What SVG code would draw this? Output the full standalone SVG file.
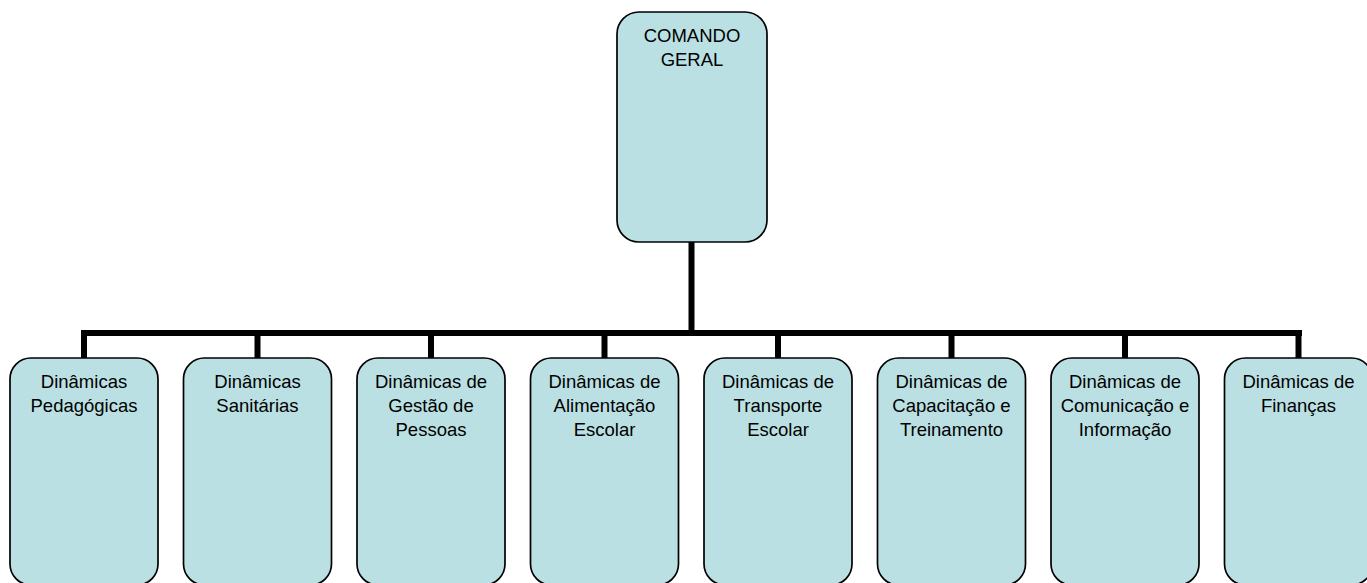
<svg xmlns="http://www.w3.org/2000/svg" width="1367" height="583" viewBox="0 0 1367 583">
<style>
.box{fill:#BAE0E3;stroke:#000;stroke-width:1.7}
.lbl{font-family:"Liberation Sans",Arial,sans-serif;font-size:18.5px;fill:#000;text-anchor:middle}
.con{stroke:#000;stroke-width:6;fill:none;stroke-linecap:butt}
</style>
<rect width="1367" height="583" fill="#fff"/>
<g id="connectors">
<line class="con" x1="691.5" y1="242" x2="691.5" y2="333"/>
<line class="con" x1="81" y1="333" x2="1302" y2="333"/>
<line class="con" x1="84" y1="330" x2="84" y2="358"/>
<line class="con" x1="257.5" y1="330" x2="257.5" y2="358"/>
<line class="con" x1="431" y1="330" x2="431" y2="358"/>
<line class="con" x1="604.5" y1="330" x2="604.5" y2="358"/>
<line class="con" x1="778" y1="330" x2="778" y2="358"/>
<line class="con" x1="951.5" y1="330" x2="951.5" y2="358"/>
<line class="con" x1="1125" y1="330" x2="1125" y2="358"/>
<line class="con" x1="1298.5" y1="330" x2="1298.5" y2="358"/>
</g>
<g id="comando-geral">
<rect class="box" x="617" y="12" width="150" height="230" rx="22"/>
<text class="lbl" x="692" y="42">COMANDO</text>
<text class="lbl" x="692" y="66">GERAL</text>
</g>
<g id="pedagogicas">
<rect class="box" x="10" y="358" width="148" height="227" rx="21"/>
<text class="lbl" x="84" y="388">Dinâmicas</text>
<text class="lbl" x="84" y="412">Pedagógicas</text>
</g>
<g id="sanitarias">
<rect class="box" x="183.5" y="358" width="148" height="227" rx="21"/>
<text class="lbl" x="257.5" y="388">Dinâmicas</text>
<text class="lbl" x="257.5" y="412">Sanitárias</text>
</g>
<g id="gestao-pessoas">
<rect class="box" x="357" y="358" width="148" height="227" rx="21"/>
<text class="lbl" x="431" y="388">Dinâmicas de</text>
<text class="lbl" x="431" y="412">Gestão de</text>
<text class="lbl" x="431" y="436">Pessoas</text>
</g>
<g id="alimentacao">
<rect class="box" x="530.5" y="358" width="148" height="227" rx="21"/>
<text class="lbl" x="604.5" y="388">Dinâmicas de</text>
<text class="lbl" x="604.5" y="412">Alimentação</text>
<text class="lbl" x="604.5" y="436">Escolar</text>
</g>
<g id="transporte">
<rect class="box" x="704" y="358" width="148" height="227" rx="21"/>
<text class="lbl" x="778" y="388">Dinâmicas de</text>
<text class="lbl" x="778" y="412">Transporte</text>
<text class="lbl" x="778" y="436">Escolar</text>
</g>
<g id="capacitacao">
<rect class="box" x="877.5" y="358" width="148" height="227" rx="21"/>
<text class="lbl" x="951.5" y="388">Dinâmicas de</text>
<text class="lbl" x="951.5" y="412">Capacitação e</text>
<text class="lbl" x="951.5" y="436">Treinamento</text>
</g>
<g id="comunicacao">
<rect class="box" x="1051" y="358" width="148" height="227" rx="21"/>
<text class="lbl" x="1125" y="388">Dinâmicas de</text>
<text class="lbl" x="1125" y="412">Comunicação e</text>
<text class="lbl" x="1125" y="436">Informação</text>
</g>
<g id="financas">
<rect class="box" x="1224.5" y="358" width="148" height="227" rx="21"/>
<text class="lbl" x="1298.5" y="388">Dinâmicas de</text>
<text class="lbl" x="1298.5" y="412">Finanças</text>
</g>
</svg>
